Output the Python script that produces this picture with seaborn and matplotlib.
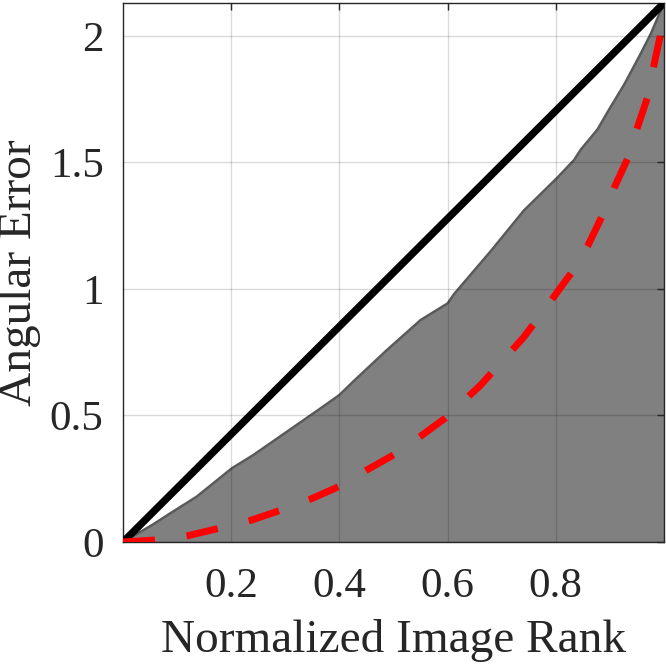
import matplotlib
matplotlib.use("Agg")
from matplotlib import pyplot as plt
import pandas as pd
import seaborn as sns

# sorted angular error per image (gray area)
rank = [0.0, 0.056, 0.087, 0.136, 0.201, 0.241, 0.303, 0.365, 0.4, 0.426, 0.488,
        0.55, 0.6, 0.612, 0.624, 0.68, 0.741, 0.803, 0.834, 0.846, 0.877, 0.896,
        0.927, 0.957, 0.976, 0.994, 1.0]
error = [0.0, 0.07, 0.113, 0.179, 0.291, 0.344, 0.436, 0.528, 0.581, 0.635, 0.759,
         0.877, 0.943, 0.98, 1.01, 1.15, 1.31, 1.44, 1.51, 1.55, 1.63, 1.70,
         1.81, 1.93, 2.01, 2.10, 2.13]

# red dashed curve
rank_red = [0.0, 0.059, 0.118, 0.177, 0.234, 0.289, 0.346, 0.399, 0.451, 0.5, 0.55,
            0.596, 0.661, 0.741, 0.794, 0.831, 0.859, 0.886, 0.908, 0.936, 0.948,
            0.97, 0.979, 0.994, 1.0]
error_red = [0.0, 0.008, 0.024, 0.054, 0.084, 0.124, 0.169, 0.219, 0.285, 0.344, 0.418,
             0.49, 0.62, 0.81, 0.962, 1.07, 1.17, 1.29, 1.40, 1.53, 1.62,
             1.76, 1.86, 2.01, 2.1]

# black diagonal
rank_diag = [0.0, 1.0]
error_diag = [0.0, 2.13]

xticks = [0.2, 0.4, 0.6, 0.8]
yticks = [0, 0.5, 1, 1.5, 2]
ytick_labels = ['0', '0.5', '1', '1.5', '2']

df = pd.DataFrame({'rank': rank, 'error': error})
df_red = pd.DataFrame({'rank': rank_red, 'error': error_red})
df_diag = pd.DataFrame({'rank': rank_diag, 'error': error_diag})

sns.set_style('white')
plt.rcParams['font.family'] = ['Liberation Serif', 'DejaVu Serif']

fig = plt.figure(figsize=(6.66, 6.64), dpi=100)
ax = fig.add_axes([0.1847, 0.1837, 0.997 - 0.1847, 0.9955 - 0.1837])

ax.fill_between(df['rank'], df['error'], color='#808080', linewidth=0, zorder=1)
sns.lineplot(data=df, x='rank', y='error', color='#5a5a5a', linewidth=1.8, ax=ax,
             estimator=None, sort=False, zorder=1.2)
sns.lineplot(data=df_diag, x='rank', y='error', color='black', linewidth=5.3, ax=ax,
             estimator=None, sort=False, zorder=3)
line_red = sns.lineplot(data=df_red, x='rank', y='error', color='red', linewidth=5, ax=ax,
                        estimator=None, sort=False, zorder=4).lines[-1]
line_red.set_dashes((4.6, 4.6))
line_red.set_dash_capstyle('butt')

ax.set_xlim(0, 1)
ax.set_ylim(0, 2.13)
ax.set_xticks(xticks)
ax.set_xticklabels([str(t) for t in xticks])
ax.set_yticks(yticks)
ax.set_yticklabels(ytick_labels)

ax.set_axisbelow(False)
ax.grid(True, color='black', alpha=0.15, linewidth=1)
ax.tick_params(direction='in', length=5, width=1, color='#262626',
               top=True, right=True, labelsize=31, labelcolor='#262626')
ax.tick_params(axis='y', pad=14)
ax.tick_params(axis='x', pad=18)
for s in ax.spines.values():
    s.set_color('#262626')
    s.set_linewidth(1)

ax.set_xlabel('Normalized Image Rank', fontsize=34, color='#262626', labelpad=10)
ax.set_ylabel('Angular Error', fontsize=34, color='#262626', labelpad=6)

fig.savefig('out.png', dpi=100)
